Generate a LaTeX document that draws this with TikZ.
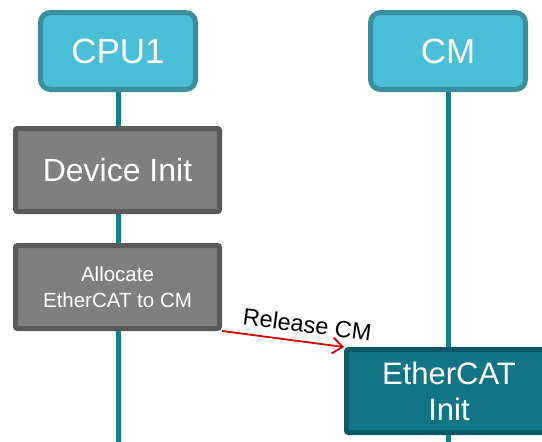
\documentclass[tikz,border=0pt]{standalone}
\usepackage{fontspec}
\setmainfont{Liberation Sans}
\usetikzlibrary{
arrows.meta,
positioning,
backgrounds
}
\definecolor{headfill}{HTML}{4ABED6}
\definecolor{headline}{HTML}{3A8E9E}
\definecolor{lifeline}{HTML}{177E8E}
\definecolor{taskfill}{HTML}{7F7F7F}
\definecolor{taskline}{HTML}{5A5A5A}
\definecolor{initfill}{HTML}{127585}
\definecolor{initline}{HTML}{0C5864}

\begin{document}
\begin{tikzpicture}[
    x=1pt, y=-1pt,
    >={Straight Barb[angle=60:16pt,length=10pt]},
    every node/.style={inner sep=0pt, text=white, align=center},
    head/.style={draw=headline, fill=headfill, line width=5pt,
      rounded corners=10pt, minimum width=155pt, minimum height=77pt,
      font=\fontsize{35}{40}\selectfont},
    task/.style={draw=taskline, fill=taskfill, line width=5pt,
      rounded corners=2pt, minimum width=204pt, minimum height=83pt},
    init/.style={draw=initline, fill=initfill, line width=5pt,
      rounded corners=2pt, minimum width=205pt, minimum height=83pt,
      font=\fontsize{31}{36}\selectfont},
    life/.style={draw=lifeline, line width=5pt}]
  \useasboundingbox (0,0) rectangle (542,442);
  \clip (0,0) rectangle (542,442);
  % lanes
  \node[head] (cpu) at (118,51) {CPU1};
  \node[head] (cm) at (448,51) {CM};
  \coordinate (cpuend) at (118,442);
  \coordinate (cmend) at (448,442);
  % steps
  \node[task, font=\fontsize{32}{36}\selectfont] (devinit) at (117.5,170) {Device Init};
  \node[task, font=\fontsize{20.5}{26}\selectfont] (alloc) at (117.5,287)
      {Allocate\\EtherCAT to CM};
  \node[init] (ecatinit) at (449,391) {EtherCAT\\Init};
  \begin{scope}[on background layer]
    \path[life] (cpu) -- (cpuend);
    \path[life] (cm) -- (cmend);
  \end{scope}
  \draw[->, red!85!black, line width=1.8pt]
      (alloc.south east) -- (ecatinit.north west)
      node[pos=0.68, sloped, above=8pt, text=black,
           font=\fontsize{23.5}{26}\selectfont] (relcm) {Release CM};
\end{tikzpicture}
\end{document}
